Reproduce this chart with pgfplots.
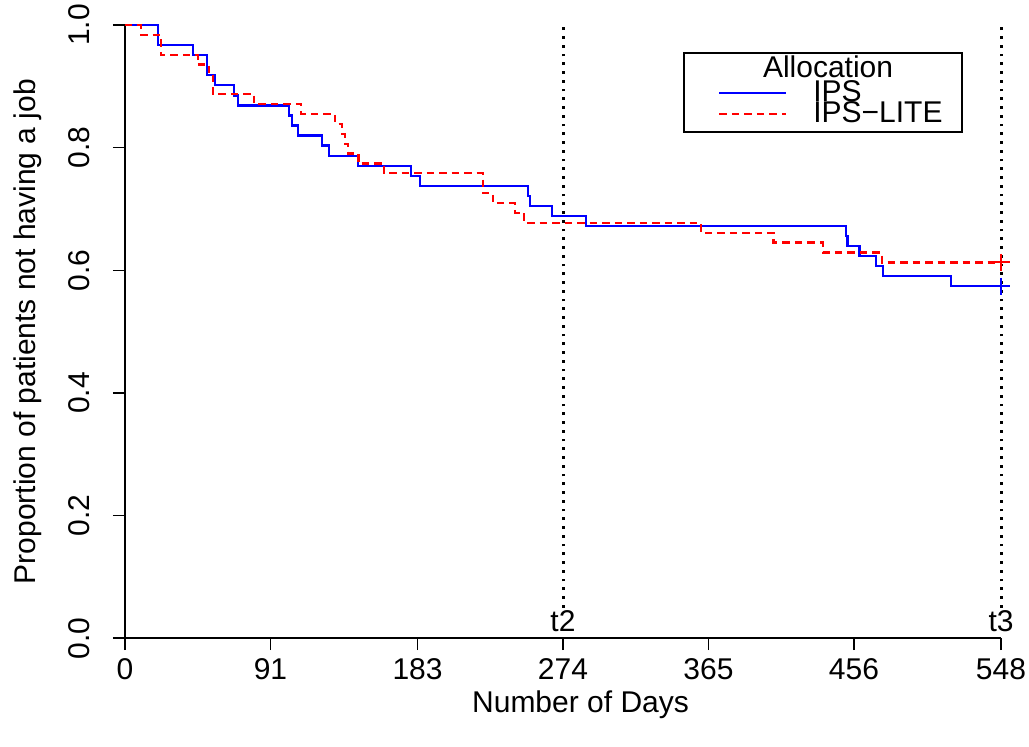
\documentclass[border=0pt]{standalone}
\usepackage{fontspec}
\setmainfont{Liberation Sans}
\usepackage{pgfplots}
\pgfplotsset{compat=1.18}

% Kaplan-Meier estimates
\pgfplotstableread{
day   S
0     1.0000
20.5  0.9672
42.4  0.9508
51.5  0.9180
56.3  0.9016
68.4  0.8852
70.5  0.8689
102.6 0.8525
104.7 0.8361
108.4 0.8197
123.1 0.8033
127.6 0.7869
145.6 0.7705
178.7 0.7541
184.7 0.7377
252.3 0.7213
253.5 0.7049
266.9 0.6885
288.4 0.6721
451.0 0.6557
451.9 0.6393
459.4 0.6230
469.8 0.6066
474.4 0.5902
516.5 0.5738
548   0.5738
}\ips
\pgfplotstableread{
day   S
0     1.0000
10.0  0.9839
22.3  0.9516
45.5  0.9355
52.7  0.9194
55.0  0.8871
80.9  0.8710
110.1 0.8548
131.4 0.8387
135.6 0.8226
137.6 0.8065
139.7 0.7903
146.0 0.7742
162.0 0.7581
223.8 0.7258
230.0 0.7097
244.0 0.6935
249.8 0.6774
360.3 0.6613
405.6 0.6452
436.5 0.6290
473.4 0.6129
548   0.6129
}\lite

\begin{document}
\fontsize{12}{14}\selectfont
\begin{tikzpicture}
\path[use as bounding box] (-50pt,-43.5pt) rectangle (361.6pt,255.3pt);
\begin{axis}[
    at={(0,0)}, anchor=south west,
    scale only axis,
    width=350.4pt, height=245.3pt,
    xmin=0, xmax=548, ymin=0, ymax=1,
    axis x line*=bottom, axis y line*=left,
    axis line style={line width=0.6pt},
    tick style={black, line width=0.6pt},
    tick align=outside,
    major tick length=4.8pt,
    xtick={0,91,183,274,365,456,548},
    ytick={0,0.2,0.4,0.6,0.8,1},
    xticklabel style={anchor=north, inner sep=0pt, yshift=-3.2pt},
    yticklabel style={xshift=-5.2pt, rotate=90, anchor=south,
        /pgf/number format/.cd, fixed, fixed zerofill, precision=1},
    /pgf/number format/assume math mode=true,
    font=\fontsize{12}{14}\selectfont,
    xlabel={Number of Days},
    ylabel={Proportion of patients not having a job},
    xlabel style={at={(axis description cs:0.52,-0.109)}, anchor=center},
    ylabel style={at={(axis description cs:-0.111,0.5)}, rotate=0, anchor=center},
    clip=false,
    legend style={at={(axis cs:371,0.9185)}, anchor=north west, draw=none, fill=none,
        font=\fontsize{12}{14}\selectfont, inner sep=0pt, row sep=-5.8pt,
        every even column/.append style={text height=8.6pt, text depth=0pt}},
    legend cell align=left,
    legend image code/.code={\draw[#1, line width=0.6pt] (0pt,0pt) -- (26.8pt,0pt);},
]
\addplot[blue, line width=0.9pt, const plot] table[x=day, y=S] {\ips};
\addlegendentry{\hspace{8.5pt}IPS}
\addplot[red, line width=0.9pt, const plot, dash pattern=on 3pt off 2pt] table[x=day, y=S] {\lite};
\addlegendentry{\hspace{8.5pt}IPS−LITE}
\addplot[blue, only marks, mark=+, mark size=3.4pt, line width=0.8pt, forget plot] coordinates {(548,0.5738)};
\addplot[red, only marks, mark=+, mark size=3.4pt, line width=0.8pt, forget plot] coordinates {(548,0.6129)};
\addplot[black, line width=1.2pt, dash pattern=on 1.1pt off 2.4pt, forget plot] coordinates {(274,0.05) (274,1.005)};
\addplot[black, line width=1.2pt, dash pattern=on 1.1pt off 2.4pt, forget plot] coordinates {(548,0.05) (548,1.005)};
\node[anchor=base, inner sep=0pt] at (axis cs:274,0.0103) {t2};
\node[anchor=base, inner sep=0pt] at (axis cs:548,0.0103) {t3};
\draw[line width=0.6pt] (axis cs:349.7,0.954) rectangle (axis cs:523.6,0.8255);
\node[anchor=center] at (axis cs:439.8,0.932) {Allocation};
\end{axis}
\end{tikzpicture}
\end{document}
